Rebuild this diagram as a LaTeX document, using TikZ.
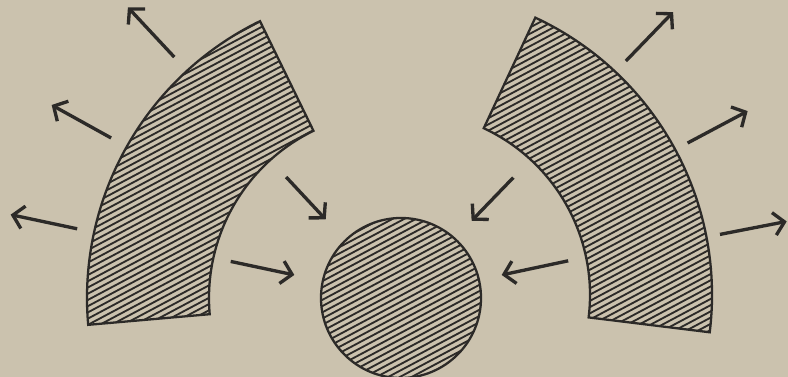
\documentclass[tikz,border=0pt]{standalone}
\usetikzlibrary{arrows.meta}
\definecolor{paper}{RGB}{203,194,174}
\definecolor{ink}{RGB}{44,42,40}

\begin{document}
\begin{tikzpicture}[
    x=0.02cm,y=0.02cm,
    outline/.style={draw=ink,line width=1.3pt,line join=miter},
    hatch/.style={ink,line width=1.05pt},
    ray/.style={-{Straight Barb[length=6pt,width=13pt]},ink,line width=1.9pt}
  ]

  %% ── Paper ────────────────────────────────────────────────────────────────
  \fill[paper] (0,0) rectangle (788,377);
  \useasboundingbox (0,0) rectangle (788,377);

  \coordinate (o)  at (398,80);   % common centre
  \coordinate (cl) at (395,79);   % left ring
  \coordinate (cr) at (406,82);   % right ring
  \coordinate (cc) at (401,79);   % core

  \newcommand{\leftring}{[shift={(cl)}] (116:308) arc[start angle=116,end angle=185,radius=308]
      -- (185:186) arc[start angle=185,end angle=116,radius=186] -- cycle}
  \newcommand{\rightring}{[shift={(cr)}] (-7:306) arc[start angle=-7,end angle=65,radius=306]
      -- (65:184) arc[start angle=65,end angle=-7,radius=184] -- cycle}
  \newcommand{\hatchlines}{%
    \begin{scope}[shift={(o)},rotate=28]
      \foreach \k in {-80,...,80}
        \draw[hatch] (-430,\k*5.5) -- (430,\k*5.5);
    \end{scope}}

  %% ── Hatched bodies ───────────────────────────────────────────────────────
  \begin{scope}
    \clip \leftring;
    \hatchlines
  \end{scope}
  \begin{scope}
    \clip \rightring;
    \hatchlines
  \end{scope}
  \begin{scope}
    \clip (cc) circle[radius=80];
    \hatchlines
  \end{scope}

  \draw[outline] \leftring;
  \draw[outline] \rightring;
  \draw[outline] (cc) circle[radius=80];

  %% ── Arrows out of the rings ──────────────────────────────────────────────
  \foreach \a in {133,151,168,46,28,11}
    \draw[ray] ([shift={(\a:328)}]o) -- ([shift={(\a:396)}]o);

  %% ── Arrows towards the core ──────────────────────────────────────────────
  \foreach \a/\r in {133/164,168/171,46/166,12/174}
    \draw[ray] ([shift={(\a:\r)}]o) -- ([shift={(\a:106)}]o);

\end{tikzpicture}
\end{document}
